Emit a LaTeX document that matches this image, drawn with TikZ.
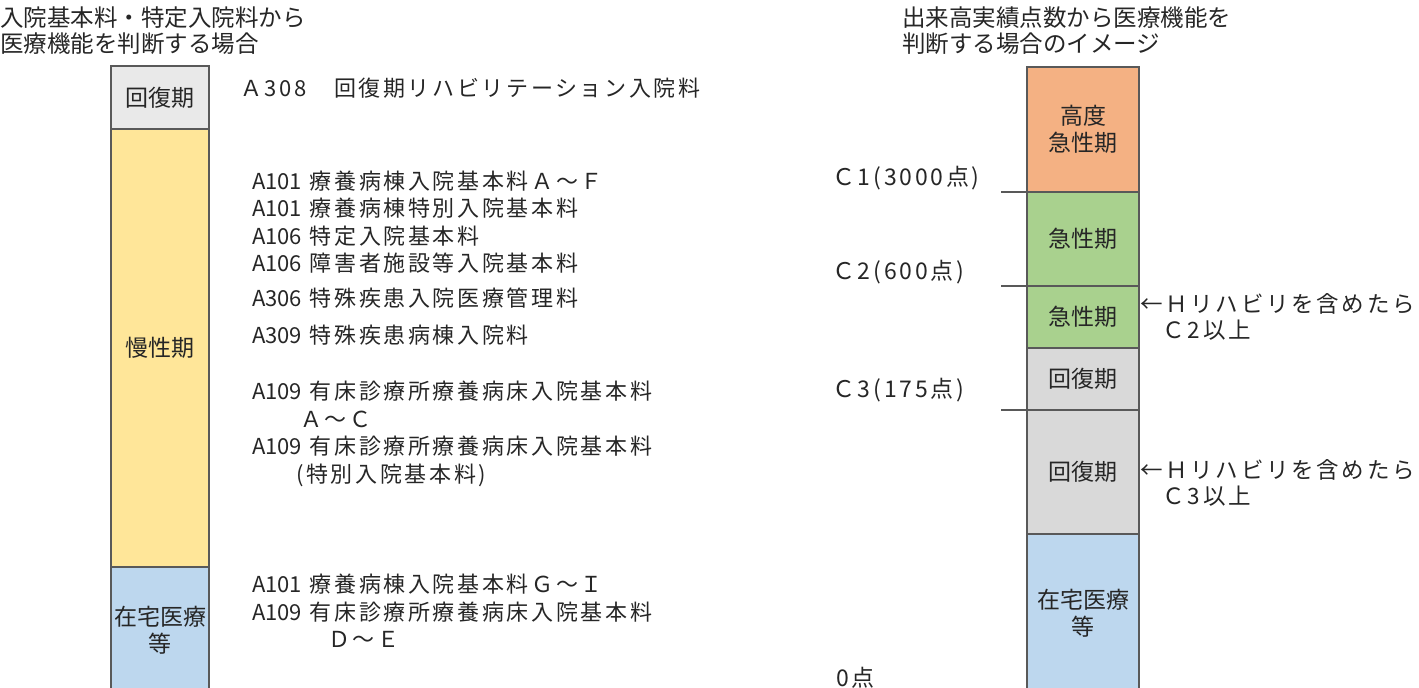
\documentclass[tikz,border=0pt]{standalone}
\usepackage{fontspec}
\setmainfont{Noto Sans CJK JP}
\newfontfamily\spacedfont[LetterSpace=12]{Noto Sans CJK JP}
\newcommand{\kcode}[1]{{\rmfamily #1}}
\usepackage{xcolor}
\usetikzlibrary{positioning}
\definecolor{ink}{HTML}{262626}
\definecolor{edge}{HTML}{595959}
\definecolor{grayL}{HTML}{E9E9E9}
\definecolor{grayR}{HTML}{D9D9D9}
\definecolor{yellowC}{HTML}{FFE699}
\definecolor{blueH}{HTML}{BDD7EE}
\definecolor{orangeA}{HTML}{F4B183}
\definecolor{greenA}{HTML}{A9D18E}

\begin{document}
\begin{tikzpicture}[
  x=1pt, y=-1pt,
  seg/.style={rectangle, draw=edge, line width=1.1pt, inner sep=0pt, outer sep=0pt, align=center, text=ink, font=\fontsize{23}{27}\selectfont},
  segL/.style={seg, minimum width=98pt},
  segR/.style={seg, minimum width=112pt},
  heading/.style={anchor=west, inner sep=0pt, align=left, text=ink, font=\fontsize{23.5}{26}\selectfont},
  item/.style={anchor=west, inner sep=0pt, align=left, text=ink, font=\spacedfont\fontsize{22}{27.5}\selectfont},
  level/.style={anchor=west, inner sep=0pt, text=ink, font=\spacedfont\fontsize{23}{26}\selectfont},
  hnote/.style={inner sep=0pt, align=left, text=ink, font=\spacedfont\fontsize{22.5}{26}\selectfont},
  cline/.style={draw=edge, line width=1.1pt}
]
\useasboundingbox (0,0) rectangle (1419,688);

\node[heading] (titleL) at (0,31) {入院基本料・特定入院料から\\医療機能を判断する場合};
\node[heading] (titleR) at (902,31) {出来高実績点数から医療機能を\\判断する場合のイメージ};

\node[segL, fill=grayL, minimum height=63pt, anchor=north west] (kaifukuL) at (111,66) {回復期};
\node[segL, fill=yellowC, minimum height=438pt, below=0pt of kaifukuL] (manseiL) {慢性期};
\node[segL, fill=blueH, minimum height=126pt, below=0pt of manseiL] (zaitakuL) {在宅医療\\等};

\node[item] (a308) at (240,88) {Ａ308　回復期リハビリテーション入院料};
\node[item] (a101) at (252,222) {\kcode{A101} 療養病棟入院基本料Ａ～Ｆ\\\kcode{A101} 療養病棟特別入院基本料\\\kcode{A106} 特定入院基本料\\\kcode{A106} 障害者施設等入院基本料};
\node[item] (a306) at (252,298) {\kcode{A306} 特殊疾患入院医療管理料};
\node[item] (a309) at (252,335) {\kcode{A309} 特殊疾患病棟入院料};
\node[item] (a109) at (252,434) {\kcode{A109} 有床診療所療養病床入院基本料\\\hspace*{48pt}Ａ～Ｃ\\\kcode{A109} 有床診療所療養病床入院基本料\\\hspace*{44pt}(特別入院基本料)};
\node[item] (a101b) at (252,611) {\kcode{A101} 療養病棟入院基本料Ｇ～Ｉ\\\kcode{A109} 有床診療所療養病床入院基本料\\\hspace*{76pt}Ｄ～Ｅ};

\node[segR, fill=orangeA, minimum height=125pt, anchor=north west] (koudo) at (1027,67) {高度\\急性期};
\node[segR, fill=greenA, minimum height=94pt, below=0pt of koudo] (kyusei) {急性期};
\node[segR, fill=greenA, minimum height=62pt, below=0pt of kyusei] (kyuseiH) {急性期};
\node[segR, fill=grayR, minimum height=62pt, below=0pt of kyuseiH] (kaifuku) {回復期};
\node[segR, fill=grayR, minimum height=124pt, below=0pt of kaifuku] (kaifukuH) {回復期};
\node[segR, fill=blueH, minimum height=158pt, below=0pt of kaifukuH] (zaitaku) {在宅医療\\等};

\node[level] (c1) at (832,178) {Ｃ1(3000点)};
\node[level] (c2) at (832,272) {Ｃ2(600点)};
\node[level] (c3) at (832,390) {Ｃ3(175点)};
\node[level] (zero) at (836,678) {0点};

\coordinate (c1end) at (1001,192);
\coordinate (c2end) at (1001,286);
\coordinate (c3end) at (1001,410);
\draw[cline] (c1end) -- (koudo.south west);
\draw[cline] (c2end) -- (kyusei.south west);
\draw[cline] (c3end) -- (kaifuku.south west);

\node[hnote, right=1pt of kyuseiH] (rehab2) {←Ｈリハビリを含めたら\\\phantom{←}Ｃ2以上};
\node[hnote, right=1pt of kaifukuH, yshift=-11pt] (rehab3) {←Ｈリハビリを含めたら\\\phantom{←}Ｃ3以上};
\end{tikzpicture}
\end{document}
